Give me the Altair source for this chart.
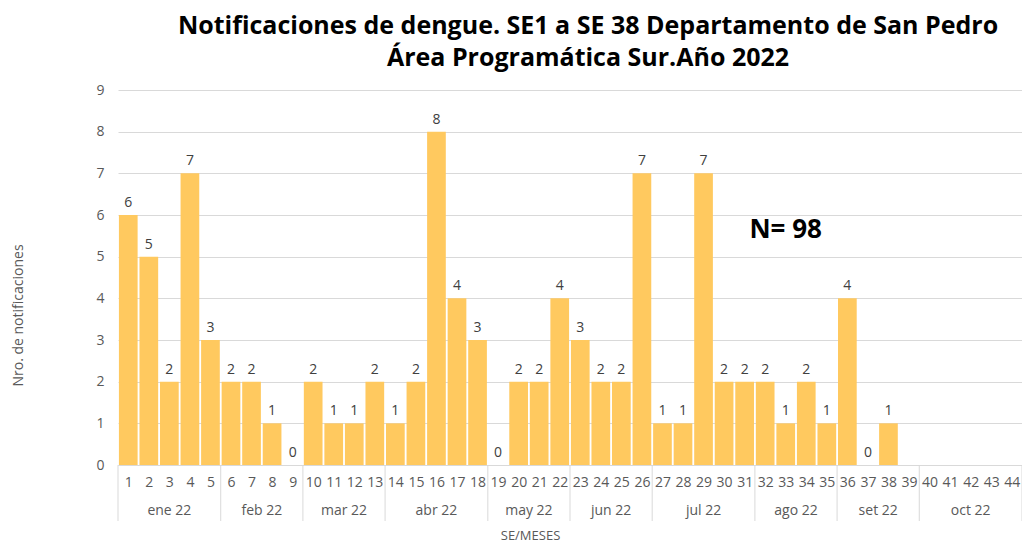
import altair as alt
import pandas as pd

weeks = list(range(1, 45))
values = [6, 5, 2, 7, 3, 2, 2, 1, 0, 2, 1, 1, 2, 1, 2, 8, 4, 3, 0, 2, 2, 4,
          3, 2, 2, 7, 1, 1, 7, 2, 2, 2, 1, 2, 1, 4, 0, 1]
month_names = ["ene 22", "feb 22", "mar 22", "abr 22", "may 22", "jun 22",
               "jul 22", "ago 22", "set 22", "oct 22"]
month_first = [1, 6, 10, 14, 19, 23, 27, 32, 36, 40]
month_last = [5, 9, 13, 18, 22, 26, 31, 35, 39, 44]
y_ticks = list(range(0, 10))

W, H = 904, 375
FONT = "Open Sans"
GRAY = "#595959"

bars_df = pd.DataFrame({"week": weeks[:len(values)], "value": values})
months_df = pd.DataFrame({"month": month_names, "first": month_first, "last": month_last})
months_df["mid"] = (months_df["first"] + months_df["last"]) / 2
sep_df = pd.DataFrame({"b": [f - 0.5 for f in month_first] + [month_last[-1] + 0.5]})
note_df = pd.DataFrame({"x": [33.0], "y": [5.63], "t": ["N= 98"]})

xscale = alt.Scale(domain=[0.5, 44.5], nice=False, zero=False)
yscale = alt.Scale(domain=[0, 9], nice=False)

xaxis = alt.Axis(values=weeks, format="d", ticks=False, grid=False, domain=True,
                 domainColor="#d9d9d9", labelFontSize=14, labelColor=GRAY,
                 labelFont=FONT, labelPadding=10, labelFlush=False, labelOverlap=False,
                 title="SE/MESES", titleFont=FONT, titleFontSize=13,
                 titleFontWeight="normal", titleColor=GRAY,
                 titleX=412, titleY=70, titleBaseline="middle", titleAlign="center")
yaxis = alt.Axis(values=y_ticks, ticks=False, domain=False, gridColor="#d9d9d9",
                 labelFontSize=14, labelColor=GRAY, labelFont=FONT, labelPadding=14,
                 title="Nro. de notificaciones", titleFont=FONT, titleFontSize=14,
                 titleFontWeight="normal", titleColor=GRAY,
                 titleX=-100, titleY=225, titleAngle=-90,
                 titleBaseline="middle", titleAlign="center")

base = alt.Chart(bars_df).transform_calculate(
    x0="datum.week - 0.455", x1="datum.week + 0.455")

bars = base.mark_bar(color="#FFC95F").encode(
    x=alt.X("x0:Q", scale=xscale, axis=xaxis),
    x2="x1:Q",
    y=alt.Y("value:Q", scale=yscale, axis=yaxis),
    y2=alt.datum(0),
)

labels = alt.Chart(bars_df).mark_text(
    dy=-12, fontSize=14, font=FONT, color="#404040").encode(
    x=alt.X("week:Q", scale=xscale, axis=xaxis),
    y=alt.Y("value:Q", scale=yscale, axis=yaxis),
    text="value:Q",
)

month_text = alt.Chart(months_df).mark_text(
    fontSize=14, font=FONT, color=GRAY, baseline="middle").encode(
    x=alt.X("mid:Q", scale=xscale, axis=xaxis),
    y=alt.value(H + 46),
    text="month:N",
)

seps = alt.Chart(sep_df).mark_rule(color="#d9d9d9", strokeWidth=1).encode(
    x=alt.X("b:Q", scale=xscale, axis=xaxis),
    y=alt.value(H),
    y2=alt.value(H + 56),
)

note = alt.Chart(note_df).mark_text(
    fontSize=26, fontWeight="bold", font=FONT, color="#000000").encode(
    x=alt.X("x:Q", scale=xscale, axis=xaxis),
    y=alt.Y("y:Q", scale=yscale, axis=yaxis),
    text="t:N",
)

chart = alt.layer(bars, labels, month_text, seps, note).properties(
    width=W, height=H,
    title=alt.Title(
        ["Notificaciones de dengue. SE1 a SE 38 Departamento de San Pedro",
         "Área Programática Sur.Año 2022"],
        font=FONT, fontSize=25, fontWeight="bold", color="#000000",
        anchor="middle", dx=18, offset=12, lineHeight=32),
    padding={"left": 110, "top": 82, "right": 0, "bottom": 78},
    autosize=alt.AutoSizeParams(type="none"),
).configure_view(stroke=None).configure_axisX(labelOverlap=False)

chart.save("out.html", embed_options={"renderer": "svg", "actions": False})
